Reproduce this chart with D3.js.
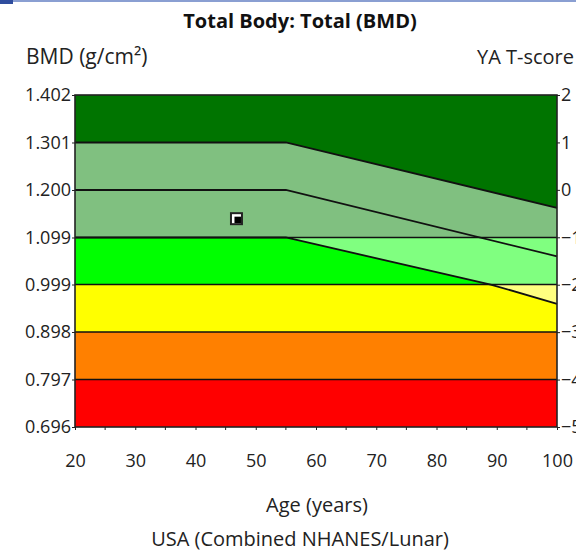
<!DOCTYPE html>
<html>
<head>
<meta charset="utf-8">
<script src="https://cdn.jsdelivr.net/npm/d3@7"></script>
<style>
  body { margin: 0; background: #fff; }
  svg { display: block; font-family: "Open Sans", "Noto Sans", sans-serif; }
</style>
</head>
<body>
<div id="chart"></div>
<script>
// reference data
var bmdTicks = [1.402, 1.301, 1.200, 1.099, 0.999, 0.898, 0.797, 0.696];
var tScoreTicks = [2, 1, 0, -1, -2, -3, -4, -5];
var ageTicks = [20, 30, 40, 50, 60, 70, 80, 90, 100];
var ageMinorTicks = [25, 35, 45, 55, 65, 75, 85, 95];

// T-score band limits (BMD) and colours: base / inside the +-1 SD curves
var bandEdges = [1.402, 1.099, 0.999, 0.898, 0.797, 0.696];
var bandBase = ["#007400", "#00ff00", "#ffff00", "#ff8000", "#ff0000"];
var bandLight = ["#80c080", "#80ff80", "#ffff80", "#ffc080", "#ff8080"];

// age-matched reference curves
var curveTop = [{age: 20, bmd: 1.301}, {age: 55, bmd: 1.301}, {age: 100, bmd: 1.162}];
var curveMid = [{age: 20, bmd: 1.200}, {age: 55, bmd: 1.200}, {age: 100, bmd: 1.059}];
var curveLow = [{age: 20, bmd: 1.099}, {age: 55, bmd: 1.099}, {age: 89, bmd: 0.999}, {age: 100, bmd: 0.958}];

// patient measurement
var patient = [{age: 46.8, bmd: 1.139}];

var width = 576, height = 551;
var margin = {left: 75, right: 19, top: 95, bottom: 124};

var svg = d3.select("#chart").append("svg")
  .attr("width", width)
  .attr("height", height);

// window top edge
svg.append("rect").attr("x", 0).attr("y", 0).attr("width", width).attr("height", 2).attr("fill", "#8a9fd2");
svg.append("rect").attr("x", 0).attr("y", 0).attr("width", 13).attr("height", 4).attr("fill", "#2f4d9e");

var x = d3.scaleLinear().domain([20, 100]).range([margin.left, width - margin.right]);
var y = d3.scaleLinear().domain([0.696, 1.402]).range([height - margin.bottom, margin.top]);
var t = d3.scaleLinear().domain([-5, 2]).range([height - margin.bottom, margin.top]);

var plot = svg.append("g");

// base band colours
plot.selectAll("rect.band")
  .data(bandBase)
  .enter()
  .append("rect")
  .attr("class", "band")
  .attr("x", x(20))
  .attr("width", x(100) - x(20))
  .attr("y", function(d, i) { return y(bandEdges[i]); })
  .attr("height", function(d, i) { return y(bandEdges[i + 1]) - y(bandEdges[i]); })
  .attr("fill", function(d) { return d; });

// clip per band for the lighter area between the curves
var defs = svg.append("defs");
bandLight.forEach(function(c, i) {
  defs.append("clipPath").attr("id", "band" + i)
    .append("rect")
    .attr("x", x(20))
    .attr("width", x(100) - x(20))
    .attr("y", y(bandEdges[i]))
    .attr("height", y(bandEdges[i + 1]) - y(bandEdges[i]));
});

// area between top and low curves (sample the polylines on the same ages)
var ages = [20, 55, 89, 100];
function interp(curve, a) {
  for (var k = 0; k < curve.length - 1; k++) {
    var p = curve[k], q = curve[k + 1];
    if (a >= p.age && a <= q.age) return p.bmd + (q.bmd - p.bmd) * (a - p.age) / (q.age - p.age);
  }
  return curve[curve.length - 1].bmd;
}
var between = ages.map(function(a) { return {age: a, hi: interp(curveTop, a), lo: interp(curveLow, a)}; });

var area = d3.area()
  .x(function(d) { return x(d.age); })
  .y0(function(d) { return y(d.lo); })
  .y1(function(d) { return y(d.hi); });

bandLight.forEach(function(c, i) {
  plot.append("path")
    .datum(between)
    .attr("d", area)
    .attr("fill", c)
    .attr("clip-path", "url(#band" + i + ")");
});

// band limit lines
plot.selectAll("line.lim")
  .data(bandEdges.slice(1, -1))
  .enter()
  .append("line")
  .attr("x1", x(20)).attr("x2", x(100))
  .attr("y1", function(d) { return y(d); })
  .attr("y2", function(d) { return y(d); })
  .attr("stroke", "#111")
  .attr("stroke-width", 1.6);

var line = d3.line()
  .x(function(d) { return x(d.age); })
  .y(function(d) { return y(d.bmd); });

[curveTop, curveMid, curveLow].forEach(function(c) {
  plot.append("path")
    .datum(c)
    .attr("d", line)
    .attr("fill", "none")
    .attr("stroke", "#111")
    .attr("stroke-width", 1.8);
});

// frame
plot.append("rect")
  .attr("x", x(20)).attr("y", y(1.402))
  .attr("width", x(100) - x(20)).attr("height", y(0.696) - y(1.402))
  .attr("fill", "none")
  .attr("stroke", "#222")
  .attr("stroke-width", 1.6);

// patient marker
var mk = plot.selectAll("g.pt").data(patient).enter().append("g")
  .attr("transform", function(d) { return "translate(" + x(d.age) + "," + y(d.bmd) + ")"; });
mk.append("rect").attr("x", -6.5).attr("y", -6.5).attr("width", 13).attr("height", 13).attr("fill", "#222");
mk.append("rect").attr("x", -4.5).attr("y", -4.5).attr("width", 9).attr("height", 9).attr("fill", "#fff");
mk.append("rect").attr("x", -2).attr("y", -2).attr("width", 6.5).attr("height", 6.5).attr("fill", "#000");

// axes
var fontTick = 18;
var yAxis = d3.axisLeft(y).tickValues(bmdTicks).tickFormat(d3.format(".3f")).tickSize(3).tickPadding(1);
var gy = svg.append("g").attr("transform", "translate(" + x(20) + ",0)").call(yAxis);

var tAxis = d3.axisRight(t).tickValues(tScoreTicks).tickFormat(d3.format("d")).tickSize(3).tickPadding(1);
var gt = svg.append("g").attr("transform", "translate(" + x(100) + ",0)").call(tAxis);

var xAxis = d3.axisBottom(x).tickValues(ageTicks).tickFormat(d3.format("d")).tickSize(3).tickPadding(24);
var gx = svg.append("g").attr("transform", "translate(0," + y(0.696) + ")").call(xAxis);

svg.append("g").selectAll("line")
  .data(ageMinorTicks)
  .enter()
  .append("line")
  .attr("x1", function(d) { return x(d); })
  .attr("x2", function(d) { return x(d); })
  .attr("y1", y(0.696))
  .attr("y2", y(0.696) + 3)
  .attr("stroke", "#222");

[gy, gt, gx].forEach(function(g) {
  g.select(".domain").remove();
  g.selectAll(".tick line").attr("stroke", "#222");
  g.selectAll(".tick text").attr("font-size", fontTick).attr("fill", "#222").attr("font-family", "Open Sans, sans-serif");
});

// titles
svg.append("text").attr("x", 300).attr("y", 28).attr("text-anchor", "middle")
  .attr("font-size", 20).attr("font-weight", "bold").attr("fill", "#111")
  .text("Total Body: Total (BMD)");
svg.append("text").attr("x", 26).attr("y", 64)
  .attr("font-size", 21).attr("fill", "#222")
  .text("BMD (g/cm²)");
svg.append("text").attr("x", 477).attr("y", 64)
  .attr("font-size", 20).attr("fill", "#222")
  .text("YA T-score");
svg.append("text").attr("x", 317).attr("y", 512).attr("text-anchor", "middle")
  .attr("font-size", 20).attr("fill", "#222")
  .text("Age (years)");
svg.append("text").attr("x", 300).attr("y", 546).attr("text-anchor", "middle")
  .attr("font-size", 20).attr("fill", "#222")
  .text("USA (Combined NHANES/Lunar)");
</script>
</body>
</html>
